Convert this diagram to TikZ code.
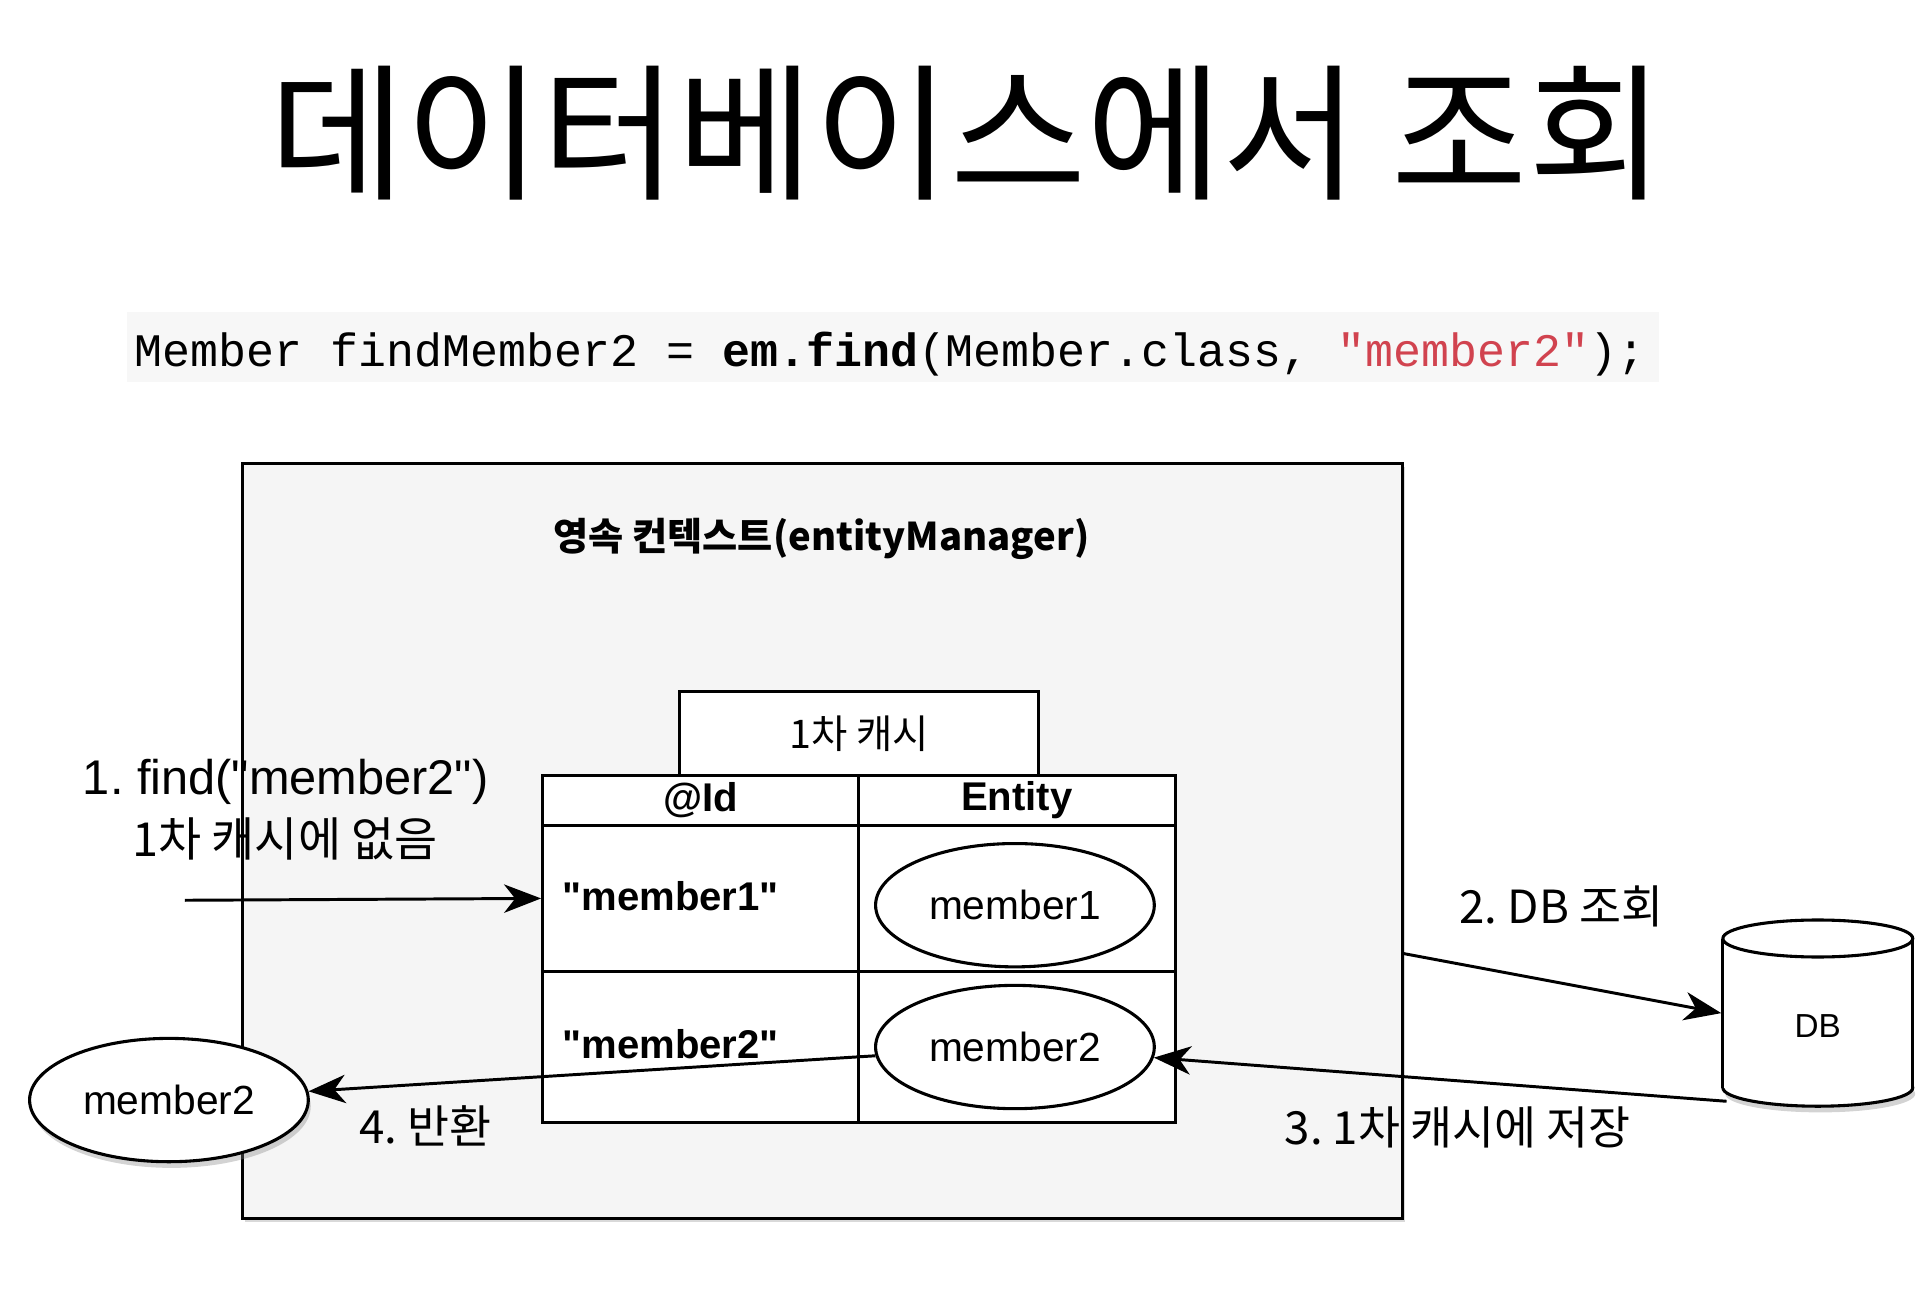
\documentclass[tikz,border=0pt]{standalone}
\usepackage{fontspec}
\setmonofont{Liberation Mono}
\newfontfamily\hv{Liberation Sans}
\newfontfamily\kr{Noto Sans CJK KR}
\usetikzlibrary{arrows.meta,shapes.geometric,shadows}
\definecolor{ctxfill}{HTML}{F5F5F5}
\definecolor{codebg}{HTML}{F7F7F7}
\definecolor{codered}{HTML}{D1434F}
\begin{document}
\frenchspacing
\begin{tikzpicture}[x=1pt,y=-1pt,line width=2.5pt,
  arr/.style={-{Stealth[length=30pt,width=23pt,inset=9pt]},line width=2.4pt},
  cell/.style={draw,fill=white,inner sep=0pt,line width=2.5pt},
  ell/.style={ellipse,draw,fill=white,minimum width=226pt,minimum height=100pt,inner sep=0pt,line width=2.5pt,font=\hv\fontsize{33}{36}\selectfont},
  lbl/.style={inner sep=0pt,font=\kr\fontsize{37}{40}\selectfont},
  hdr/.style={font=\hv\bfseries\fontsize{32.5}{36}\selectfont},
  shd/.style={drop shadow={shadow xshift=2pt,shadow yshift=-5pt,opacity=0.35}}
]
\useasboundingbox (0,0) rectangle (1565,1060.6);

% title
\node[inner sep=0pt,font=\kr\fontsize{120}{124}\selectfont] (title) at (784,108) {데이터베이스에서 조회};

% code line
\fill[codebg] (103,253) rectangle (1345,310);
\node[anchor=base west,inner sep=0pt,font=\ttfamily\fontsize{37.8}{40}\selectfont] (code) at (108,297)
  {Member findMember2 = \textbf{em.find}(Member.class, \textcolor{codered}{"member2"});};

% persistence context box
\node[draw,fill=ctxfill,minimum width=940pt,minimum height=612pt,inner sep=0pt,line width=2.5pt,
  drop shadow={shadow xshift=2pt,shadow yshift=-3pt,opacity=0.3}] (ctx) at (667,682) {};
\node[inner sep=0pt,font=\kr\bfseries\fontsize{31}{34}\selectfont] (ctxtitle) at (666,437) {영속 컨텍스트(entityManager)};

% first-level cache table
\node[cell,minimum width=291pt,minimum height=68pt,font=\kr\fontsize{32}{34}\selectfont] (cache) at (696.5,595) {1차 캐시};
\node[cell,minimum width=256pt,minimum height=40pt,hdr] (hid) at (568,649) {@Id};
\node[cell,minimum width=257pt,minimum height=40pt,hdr] (hent) at (824.5,649) {Entity};
\node[cell,minimum width=256pt,minimum height=119pt] (r1id) at (568,728.5) {};
\node[cell,minimum width=257pt,minimum height=119pt] (r1e) at (824.5,728.5) {};
\node[cell,minimum width=256pt,minimum height=122pt] (r2id) at (568,849) {};
\node[cell,minimum width=257pt,minimum height=122pt] (r2e) at (824.5,849) {};
\node[anchor=west,hdr,inner sep=0pt] (k1) at (455,727) {"member1"};
\node[anchor=west,hdr,inner sep=0pt] (k2) at (455,847) {"member2"};
\node[ell] (m1) at (823,734) {member1};
\node[ell] (m2e) at (823,849) {member2};

% returned entity
\node[ell,shd] (m2out) at (137,892) {member2};

% DB cylinder
\draw[fill=white,line width=2.5pt,shd] (1474,882) ellipse [x radius=77,y radius=15];
\fill[white] (1397,761) rectangle (1551,882);
\draw[line width=2.5pt] (1397,761) -- (1397,882) (1551,761) -- (1551,882);
\draw[fill=white,line width=2.5pt] (1474,761) ellipse [x radius=77,y radius=15];
\node[inner sep=0pt,minimum width=154pt,minimum height=121pt] (db) at (1474,821.5) {};
\node[inner sep=0pt,font=\hv\fontsize{27}{30}\selectfont] (dblabel) at (1474,832) {DB};

% labels
\node[anchor=west,inner sep=0pt,font=\hv\fontsize{39.5}{42}\selectfont] (l1a) at (66,634) {1. find("member2")};
\node[anchor=west,lbl,font=\kr\fontsize{38}{40}\selectfont] (l1b) at (106,680) {1차 캐시에 없음};
\node[lbl] (l2) at (1266,735) {2. DB 조회};
\node[lbl] (l3) at (1182,914) {3. 1차 캐시에 저장};
\node[lbl] (l4) at (345,913) {4. 반환};

% connectors
\coordinate (s1) at (150,730);
\coordinate (q) at (1137,773);
\coordinate (dbbl) at (1400,893);
\draw[arr] (s1) -- (r1id.west);
\draw[arr] (q) -- (db.west);
\draw[arr] (dbbl) -- (m2e);
\draw[arr] (m2e) -- (m2out);
\end{tikzpicture}
\end{document}
